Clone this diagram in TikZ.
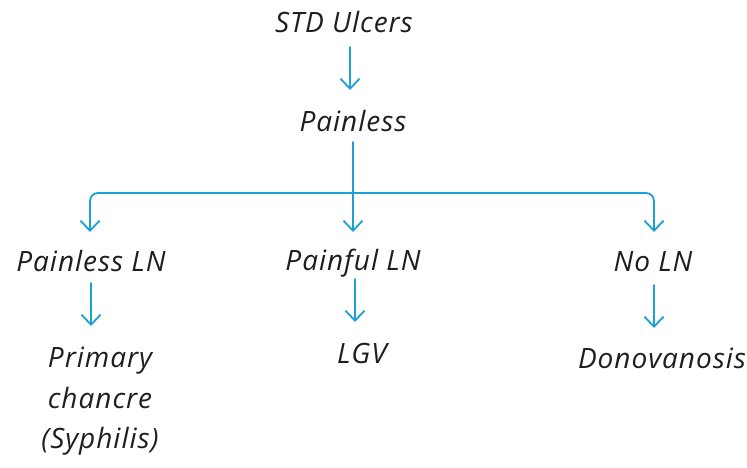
\documentclass[tikz,border=0pt]{standalone}
\usepackage{fontspec}
\setmainfont{Open Sans}[LetterSpace=3.5]
\usetikzlibrary{arrows.meta}
\definecolor{arrowblue}{RGB}{27,160,216}
\definecolor{ink}{RGB}{30,30,30}
\begin{document}
\begin{tikzpicture}[x=1pt,y=-1pt,
  lbl/.style={font=\itshape\fontsize{28}{40.5}\selectfont, text=ink, inner sep=0pt, anchor=base, align=center},
  arr/.style={draw=arrowblue, line width=1.8pt, line cap=round, -{Straight Barb[length=10pt,width=19pt,line width=1.8pt]}},
  bar/.style={draw=arrowblue, line width=1.8pt, line cap=round, rounded corners=8pt, -{Straight Barb[length=10pt,width=19pt,line width=1.8pt]}}]
\useasboundingbox (0,0) rectangle (747,467);
\node[lbl] (stdu) at (344,32) {STD Ulcers};
\node[lbl] (painless) at (353,131) {Painless};
\node[lbl] (pln) at (91,271) {Painless LN};
\node[lbl] (pful) at (353,270) {Painful LN};
\node[lbl] (noln) at (653,271) {No LN};
\node[lbl, anchor=north] (prim) at (100,347) {Primary\\chancre\\(Syphilis)};
\node[lbl] (lgv) at (362,363) {LGV};
\node[lbl] (donov) at (662,368) {Donovanosis};
\coordinate (split) at (353,193);
\draw[arr] ([xshift=6pt,yshift=-15pt]stdu.base) -- ([xshift=-3pt,yshift=41pt]painless.base);
\draw[arr] ([yshift=-11pt]painless.base) -- ([yshift=38pt]pful.base);
\draw[bar] (split) -| ([xshift=-1pt,yshift=39pt]pln.base);
\draw[bar] (split) -| ([xshift=1pt,yshift=39pt]noln.base);
\draw[arr] ([yshift=-12pt]pln.base) -- ([xshift=-9pt,yshift=21pt]prim.north);
\draw[arr] ([xshift=2pt,yshift=-9pt]pful.base) -- ([xshift=-7pt,yshift=41pt]lgv.base);
\draw[arr] ([xshift=1pt,yshift=-14pt]noln.base) -- ([xshift=-8pt,yshift=40pt]donov.base);
\end{tikzpicture}
\end{document}
